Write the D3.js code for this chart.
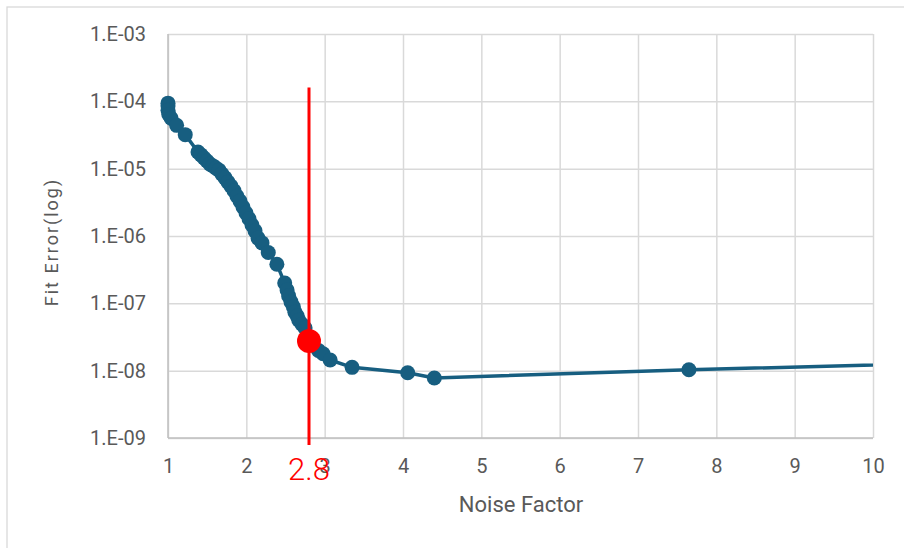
<!DOCTYPE html>
<html>
<head>
<meta charset="utf-8">
<script src="https://cdn.jsdelivr.net/npm/d3@7"></script>
<style>
  html, body { margin: 0; padding: 0; background: #fff; }
  svg { display: block; font-family: Roboto, "Open Sans", sans-serif; }
</style>
</head>
<body>
<svg id="chart" width="904" height="548"></svg>
<script>
// ---- data ----
const noiseFactor = [
  1.00, 1.00, 1.00, 1.01, 1.04, 1.11, 1.22,
  1.383, 1.421, 1.460, 1.498, 1.536, 1.575, 1.613, 1.651, 1.689, 1.728, 1.766,
  1.804, 1.843, 1.881, 1.919, 1.957, 1.996, 2.034, 2.072, 2.111, 2.149,
  2.20, 2.28, 2.39,
  2.49, 2.52, 2.54, 2.57, 2.60, 2.62, 2.65, 2.67, 2.71, 2.75,
  2.92, 2.98, 3.07, 3.35, 4.06, 4.40, 7.65, 12.0
];
const fitError = [
  9.4e-5, 8.5e-5, 7.4e-5, 6.4e-5, 5.6e-5, 4.4e-5, 3.2e-5,
  1.77e-5, 1.60e-5, 1.44e-5, 1.30e-5, 1.17e-5, 1.10e-5, 1.02e-5, 9.5e-6, 8.3e-6, 7.3e-6, 6.3e-6,
  5.5e-6, 4.7e-6, 3.9e-6, 3.3e-6, 2.7e-6, 2.2e-6, 1.8e-6, 1.46e-6, 1.19e-6, 9.3e-7,
  7.9e-7, 5.7e-7, 3.8e-7,
  2.0e-7, 1.58e-7, 1.29e-7, 1.05e-7, 8.9e-8, 7.4e-8, 6.5e-8, 5.6e-8, 4.9e-8, 4.3e-8,
  2.0e-8, 1.78e-8, 1.44e-8, 1.12e-8, 9.3e-9, 7.8e-9, 1.03e-8, 1.4e-8
];
const highlightX = [2.8];
const highlightY = [2.75e-8];
const refLineX = 2.8;
const refLineTop = 1.6e-4;
const refLabel = "2.8";
const xTickValues = [1, 2, 3, 4, 5, 6, 7, 8, 9, 10];
const xTickLabels = ["1", "2", "3", "4", "5", "6", "7", "8", "9", "10"];
const yTickValues = [1e-9, 1e-8, 1e-7, 1e-6, 1e-5, 1e-4, 1e-3];
const yTickLabels = ["1.E-09", "1.E-08", "1.E-07", "1.E-06", "1.E-05", "1.E-04", "1.E-03"];
const xTitle = "Noise Factor";
const yTitle = "Fit Error(log)";

// ---- layout ----
const svg = d3.select("#chart");
const L = 168, R = 873, T = 34, B = 438;
const blue = "#175e80", red = "#ff0000", gridC = "#d9d9d9", axisC = "#bfbfbf", textC = "#595959";

// outer frame
svg.append("rect").attr("x", 7).attr("y", 7).attr("width", 920).attr("height", 560)
  .attr("fill", "none").attr("stroke", gridC).attr("stroke-width", 1.3);

const x = d3.scaleLinear().domain([1, 10]).range([L, R]);
const y = d3.scaleLog().domain([1e-9, 1e-3]).range([B, T]);

// grid
const gx = svg.append("g").attr("transform", `translate(0,${B})`)
  .call(d3.axisBottom(x).tickValues(xTickValues).tickSize(-(B - T)).tickFormat(""));
gx.select(".domain").remove();
gx.selectAll("line").attr("stroke", gridC).attr("stroke-width", 1.5);
const gy = svg.append("g").attr("transform", `translate(${L},0)`)
  .call(d3.axisLeft(y).tickValues(yTickValues).tickSize(-(R - L)).tickFormat(""));
gy.select(".domain").remove();
gy.selectAll("line").attr("stroke", gridC).attr("stroke-width", 1.5);

// axis lines
svg.append("line").attr("x1", L).attr("x2", L).attr("y1", T).attr("y2", B)
  .attr("stroke", axisC).attr("stroke-width", 1.5);
svg.append("line").attr("x1", L).attr("x2", R).attr("y1", B).attr("y2", B)
  .attr("stroke", axisC).attr("stroke-width", 1.5);

// tick labels
const ax = svg.append("g").attr("transform", `translate(0,${B})`)
  .call(d3.axisBottom(x).tickValues(xTickValues).tickSize(0).tickPadding(21)
    .tickFormat((d, i) => xTickLabels[i]));
ax.select(".domain").remove();
ax.selectAll("text").attr("fill", textC).style("font-size", "20px").style("font-family", "Roboto, sans-serif");
const ay = svg.append("g").attr("transform", `translate(${L},0)`)
  .call(d3.axisLeft(y).tickValues(yTickValues).tickSize(0).tickPadding(22)
    .tickFormat((d, i) => yTickLabels[i]));
ay.select(".domain").remove();
ay.selectAll("text").attr("fill", textC).style("font-size", "20px").style("font-family", "Roboto, sans-serif");

// titles
svg.append("text").attr("x", 521).attr("y", 512).attr("text-anchor", "middle")
  .attr("fill", textC).style("font-size", "22px").text(xTitle);
svg.append("text").attr("transform", "translate(58,242) rotate(-90)").attr("text-anchor", "middle")
  .attr("fill", textC).style("font-size", "18px").style("letter-spacing", "2px").text(yTitle);

// clip
svg.append("clipPath").attr("id", "plotclip").append("rect")
  .attr("x", L - 12).attr("y", T - 12).attr("width", R - L + 12).attr("height", B - T + 24);

const pts = noiseFactor.map((d, i) => ({ x: d, y: fitError[i] }));
const g = svg.append("g").attr("clip-path", "url(#plotclip)");
g.append("path").datum(pts)
  .attr("fill", "none").attr("stroke", blue).attr("stroke-width", 3.5).attr("stroke-linejoin", "round")
  .attr("d", d3.line().x(d => x(d.x)).y(d => y(d.y)));
g.selectAll("circle.pt").data(pts).enter().append("circle").attr("class", "pt")
  .attr("cx", d => x(d.x)).attr("cy", d => y(d.y)).attr("r", 7.5).attr("fill", blue);

// reference line
svg.append("line").attr("x1", x(refLineX)).attr("x2", x(refLineX))
  .attr("y1", y(refLineTop)).attr("y2", B + 7)
  .attr("stroke", red).attr("stroke-width", 3);

// highlight point
svg.selectAll("circle.hl").data(highlightX.map((d, i) => ({ x: d, y: highlightY[i] }))).enter()
  .append("circle").attr("class", "hl")
  .attr("cx", d => x(d.x)).attr("cy", d => y(d.y)).attr("r", 12).attr("fill", red);

// ref label
svg.append("text").attr("x", x(refLineX)).attr("y", 480).attr("text-anchor", "middle")
  .attr("fill", red).style("font-size", "31px").style("font-weight", 300).text(refLabel);
</script>
</body>
</html>
